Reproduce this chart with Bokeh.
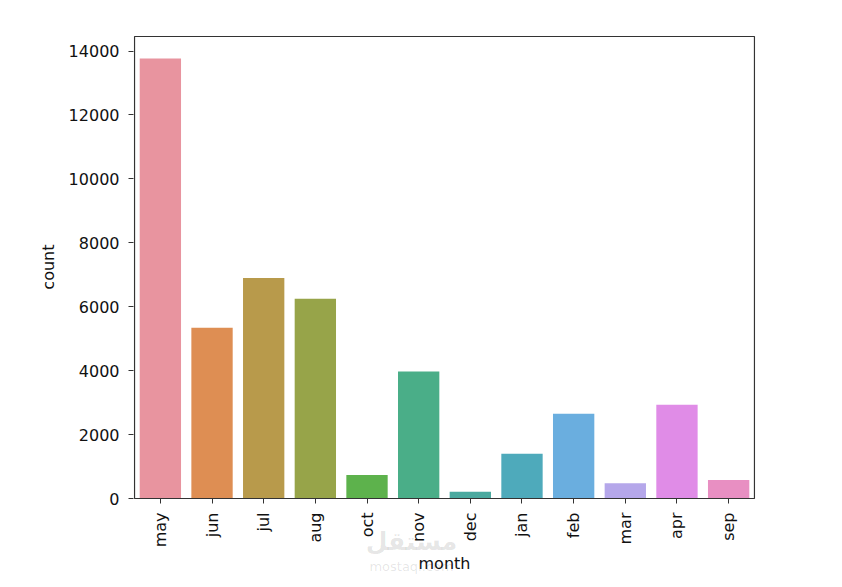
import math
from bokeh.plotting import figure
from bokeh.models import (ColumnDataSource, Range1d, FactorRange, FixedTicker, Label,
                          CategoricalAxis, BoxAnnotation, Title)
from bokeh.embed import file_html
from bokeh.resources import INLINE

months = ["may", "jun", "jul", "aug", "oct", "nov", "dec", "jan", "feb", "mar", "apr", "sep"]
counts = [13766, 5341, 6895, 6247, 738, 3970, 214, 1403, 2649, 477, 2932, 579]
colors = ["#E8949F", "#DE8E53", "#B89A4B", "#97A449", "#5DB24C", "#4AAE88",
          "#4AA99F", "#4EAABB", "#6AAEDF", "#B5A7EA", "#E08CE7", "#E88FC2"]
y_ticks = [0, 2000, 4000, 6000, 8000, 10000, 12000, 14000]

YMAX = 14454          # top of the axes box (max * 1.05)
px = 462 / YMAX       # pixels per unit
ybot = -89 / px       # room below zero for the rotated tick labels
ytop = YMAX + 1 / px

src = ColumnDataSource(dict(month=months, count=counts, color=colors))

p = figure(width=842, height=587,
           x_range=FactorRange(*months, range_padding=0.02, range_padding_units="absolute"),
           y_range=Range1d(ybot, ytop),
           x_axis_location=None,
           output_backend="svg", toolbar_location=None,
           min_border_left=133, min_border_right=87, min_border_top=35, min_border_bottom=0)
p.vbar(x="month", top="count", width=0.8, fill_color="color", line_color=None, source=src)

p.xgrid.visible = False
p.ygrid.visible = False
p.outline_line_color = None
p.background_fill_color = "white"
p.border_fill_color = "white"

box = BoxAnnotation(left=0, right=12, bottom=0, top=YMAX, fill_alpha=0,
                    line_color="#333333", line_alpha=1.0, line_width=1.2, level="overlay")
p.add_layout(box)

font = "DejaVu Sans"
xaxis = CategoricalAxis(fixed_location=0)
p.add_layout(xaxis, "below")

for ax in (xaxis, p.yaxis[0]):
    ax.axis_line_color = None
    ax.major_tick_line_color = "#333333"
    ax.major_tick_out = 5
    ax.major_tick_in = 0
    ax.minor_tick_line_color = None
    ax.major_label_text_font = font
    ax.major_label_text_font_size = "16px"
    ax.major_label_text_color = "#111111"
    ax.axis_label_text_font = font
    ax.axis_label_text_font_size = "16px"
    ax.axis_label_text_font_style = "normal"
    ax.axis_label_text_color = "#111111"

p.yaxis.ticker = FixedTicker(ticks=y_ticks)
p.yaxis.bounds = (0, YMAX)
p.yaxis.major_label_standoff = 9
xaxis.major_label_orientation = math.pi / 2
xaxis.major_label_standoff = 9
xaxis.axis_label = "month"
xaxis.axis_label_standoff = 4

ylab = Title(text="count", align="right", offset=209, standoff=16,
             text_font=font, text_font_size="16px", text_font_style="normal",
             text_color="#111111")
p.add_layout(ylab, "left")

wm1 = Label(x=278, y=46, x_units="screen", y_units="screen", text="مستقل",
            text_font=font, text_font_style="bold", text_font_size="25px",
            text_color="black", text_alpha=0.11, text_align="center",
            text_baseline="middle", level="overlay")
wm2 = Label(x=278, y=21, x_units="screen", y_units="screen", text="mostaql.com",
            text_font=font, text_font_size="13px",
            text_color="black", text_alpha=0.11, text_align="center",
            text_baseline="middle", level="overlay")
p.add_layout(wm1)
p.add_layout(wm2)

open("out.html", "w").write(file_html(p, INLINE))
